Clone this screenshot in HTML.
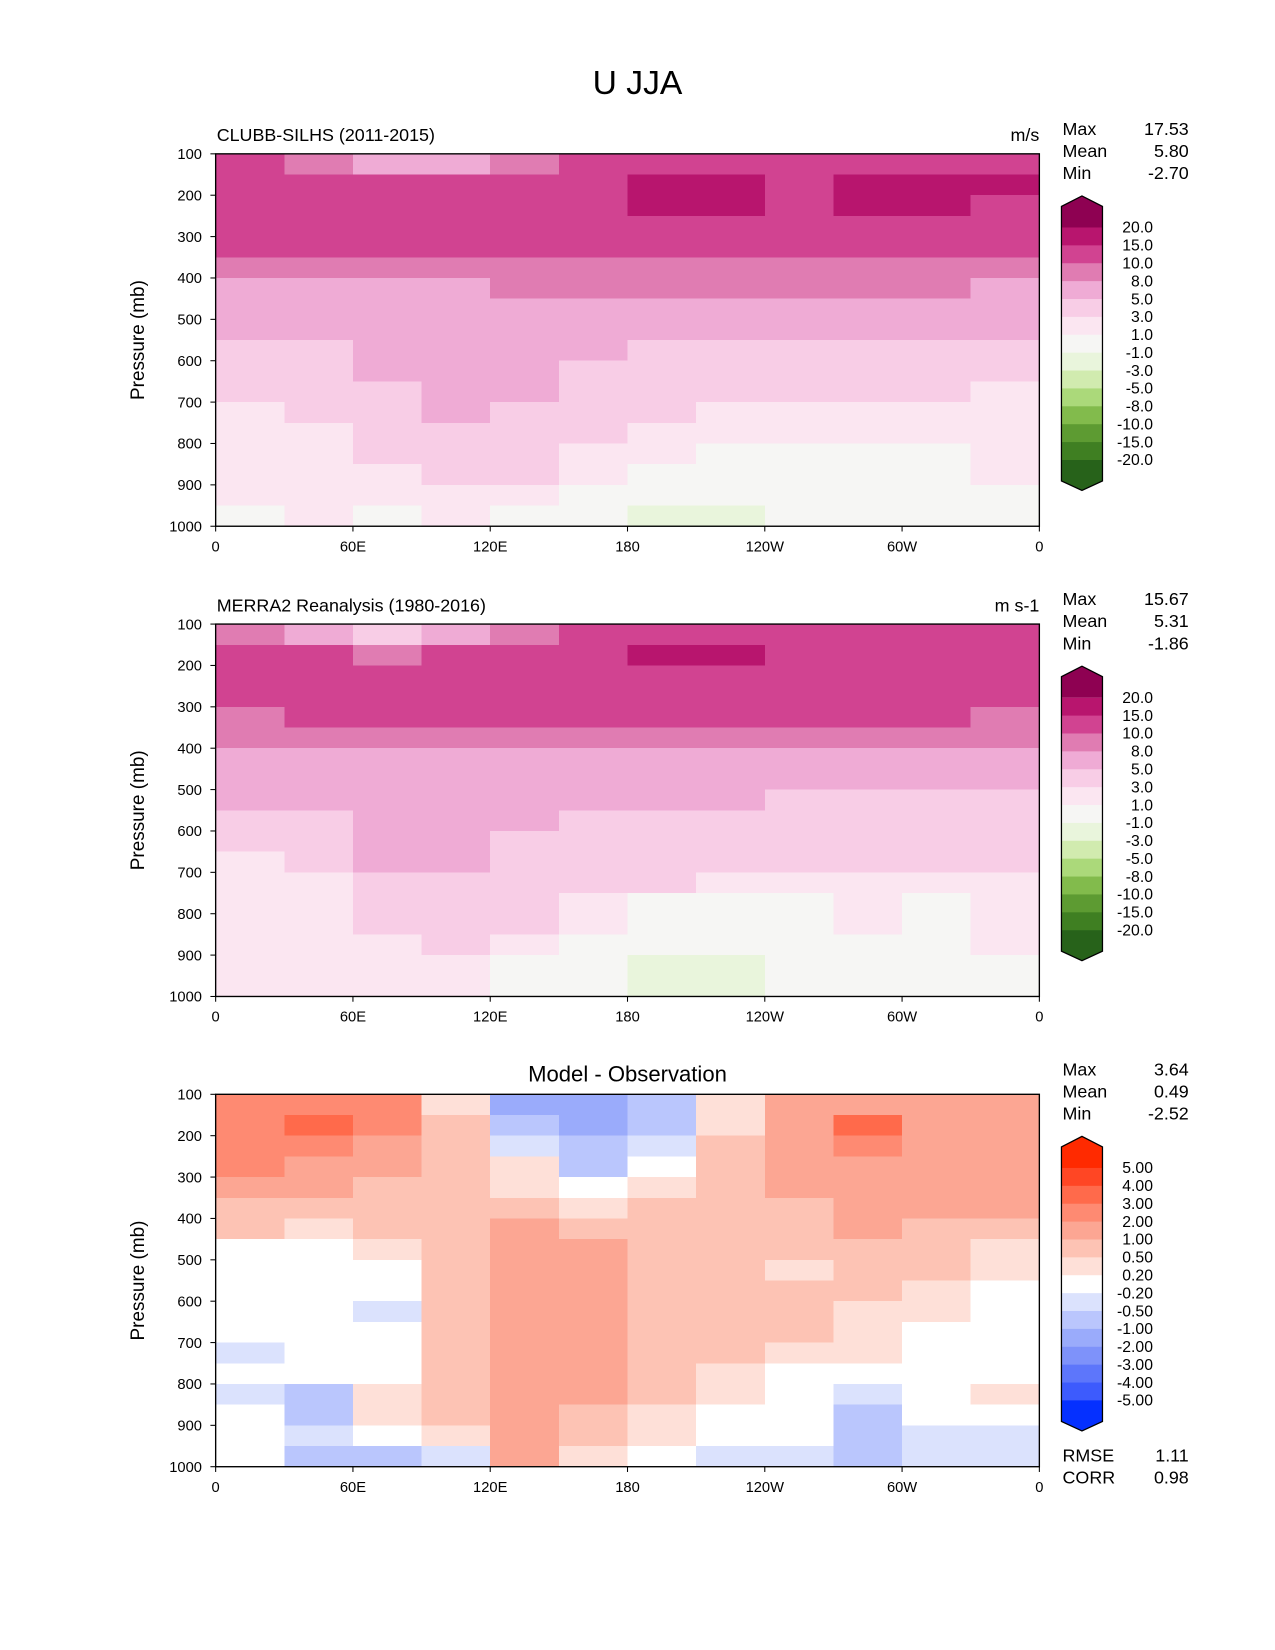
<!DOCTYPE html>
<html><head><meta charset="utf-8"><style>
html,body{margin:0;padding:0;background:#fff}
svg{display:block}
text{font-family:"Liberation Sans","DejaVu Sans",sans-serif;fill:#000}
</style></head><body>
<svg id="fig" width="1275" height="1650" viewBox="0 0 1212 1568" xmlns="http://www.w3.org/2000/svg">
<text x="606" y="89" font-size="32" text-anchor="middle">U JJA</text>
</svg>
<script>
const lonCenters=[15,45,75,105,135,165,195,225,255,285,315,345];
const presCenters=[125,175,225,275,325,375,425,475,525,575,625,675,725,775,825,875,925,975];
const xTickLabels=["0","60E","120E","180","120W","60W","0"];
const yTickLabels=["100","200","300","400","500","600","700","800","900","1000"];
const fieldLevels=[-20,-15,-10,-8,-5,-3,-1,1,3,5,8,10,15,20];
const fieldLabels=["20.0","15.0","10.0","8.0","5.0","3.0","1.0","-1.0","-3.0","-5.0","-8.0","-10.0","-15.0","-20.0"];
const fieldColors=["#27621a","#3f7f22","#5d9b32","#82bb4c","#abd97a","#d1ebaf","#e9f5dc","#f6f6f4","#fbe6f1","#f8cde6","#efabd5","#e07cb2","#d14391","#b8156e","#8e0152"];
const diffLevels=[-5,-4,-3,-2,-1,-0.5,-0.2,0.2,0.5,1,2,3,4,5];
const diffLabels=["5.00","4.00","3.00","2.00","1.00","0.50","0.20","-0.20","-0.50","-1.00","-2.00","-3.00","-4.00","-5.00"];
const diffColors=["#0530ff","#3d5bfd","#5d76fb","#7e92fa","#9aabfb","#bac6fd","#dbe2fd","#ffffff","#fee0d8","#fdc3b4","#fca693","#fe8a72","#ff6a4b","#ff4624","#ff2a00"];
const model=[
[12,9,6.5,6.5,9,12,12,12,12,12,12,12],
[12,12,12,12,12,12,17,17,12,17,17,17],
[12,12,12,12,12,12,17,17,12,17,17,12],
[12,12,12,12,12,12,12,12,12,12,12,12],
[12,12,12,12,12,12,12,12,12,12,12,12],
[9,9,9,9,9,9,9,9,9,9,9,9],
[6.5,6.5,6.5,6.5,9,9,9,9,9,9,9,6.5],
[6.5,6.5,6.5,6.5,6.5,6.5,6.5,6.5,6.5,6.5,6.5,6.5],
[6.5,6.5,6.5,6.5,6.5,6.5,6.5,6.5,6.5,6.5,6.5,6.5],
[4,4,6.5,6.5,6.5,6.5,4,4,4,4,4,4],
[4,4,6.5,6.5,6.5,4,4,4,4,4,4,4],
[4,4,4,6.5,6.5,4,4,4,4,4,4,2],
[2,4,4,6.5,4,4,4,2,2,2,2,2],
[2,2,4,4,4,4,2,2,2,2,2,2],
[2,2,4,4,4,2,2,0,0,0,0,2],
[2,2,2,4,4,2,0,0,0,0,0,2],
[2,2,2,2,2,0,0,0,0,0,0,0],
[0,2,0,2,0,0,-2,-2,0,0,0,0]];
const obs=[
[9,6.5,4,6.5,9,12,12,12,12,12,12,12],
[12,12,9,12,12,12,17,17,12,12,12,12],
[12,12,12,12,12,12,12,12,12,12,12,12],
[12,12,12,12,12,12,12,12,12,12,12,12],
[9,12,12,12,12,12,12,12,12,12,12,9],
[9,9,9,9,9,9,9,9,9,9,9,9],
[6.5,6.5,6.5,6.5,6.5,6.5,6.5,6.5,6.5,6.5,6.5,6.5],
[6.5,6.5,6.5,6.5,6.5,6.5,6.5,6.5,6.5,6.5,6.5,6.5],
[6.5,6.5,6.5,6.5,6.5,6.5,6.5,6.5,4,4,4,4],
[4,4,6.5,6.5,6.5,4,4,4,4,4,4,4],
[4,4,6.5,6.5,4,4,4,4,4,4,4,4],
[2,4,6.5,6.5,4,4,4,4,4,4,4,4],
[2,2,4,4,4,4,4,2,2,2,2,2],
[2,2,4,4,4,2,0,0,0,2,0,2],
[2,2,4,4,4,2,0,0,0,2,0,2],
[2,2,2,4,2,0,0,0,0,0,0,2],
[2,2,2,2,0,0,-2,-2,0,0,0,0],
[2,2,2,2,0,0,-2,-2,0,0,0,0]];
const diff=[
[2.5,2.5,2.5,0.3,-1.5,-1.5,-0.7,0.3,1.5,1.5,1.5,1.5],
[2.5,3.5,2.5,0.7,-0.7,-1.5,-0.7,0.3,1.5,3.5,1.5,1.5],
[2.5,2.5,1.5,0.7,-0.3,-0.7,-0.3,0.7,1.5,2.5,1.5,1.5],
[2.5,1.5,1.5,0.7,0.3,-0.7,0,0.7,1.5,1.5,1.5,1.5],
[1.5,1.5,0.7,0.7,0.3,0,0.3,0.7,1.5,1.5,1.5,1.5],
[0.7,0.7,0.7,0.7,0.7,0.3,0.7,0.7,0.7,1.5,1.5,1.5],
[0.7,0.3,0.7,0.7,1.5,0.7,0.7,0.7,0.7,1.5,0.7,0.7],
[0,0,0.3,0.7,1.5,1.5,0.7,0.7,0.7,0.7,0.7,0.3],
[0,0,0,0.7,1.5,1.5,0.7,0.7,0.3,0.7,0.7,0.3],
[0,0,0,0.7,1.5,1.5,0.7,0.7,0.7,0.7,0.3,0],
[0,0,-0.3,0.7,1.5,1.5,0.7,0.7,0.7,0.3,0.3,0],
[0,0,0,0.7,1.5,1.5,0.7,0.7,0.7,0.3,0,0],
[-0.3,0,0,0.7,1.5,1.5,0.7,0.7,0.3,0.3,0,0],
[0,0,0,0.7,1.5,1.5,0.7,0.3,0,0,0,0],
[-0.3,-0.7,0.3,0.7,1.5,1.5,0.7,0.3,0,-0.3,0,0.3],
[0,-0.7,0.3,0.7,1.5,0.7,0.3,0,0,-0.7,0,0],
[0,-0.3,0,0.3,1.5,0.7,0.3,0,0,-0.7,-0.3,-0.3],
[0,-0.7,-0.7,-0.3,1.5,0.3,0,-0.3,-0.3,-0.7,-0.3,-0.3]];
const statsModel=["17.53","5.80","-2.70"];
const statsObs=["15.67","5.31","-1.86"];
const statsDiff=["3.64","0.49","-2.52"];

const NS="http://www.w3.org/2000/svg";
const svg=document.getElementById('fig');
function mk(tag,attrs,parent,txt){const e=document.createElementNS(NS,tag);for(const k in attrs)e.setAttribute(k,attrs[k]);if(txt!==undefined)e.textContent=txt;(parent||svg).appendChild(e);return e;}
const X0=205,X1=988,W=X1-X0,H=354;
function colorFor(v,levels,colors){let i=0;while(i<levels.length&&v>=levels[i])i++;return colors[i];}

function panel(top,data,levels,colors,labels,name,title,unit,center,stats,cbTop,extra){
  const g=mk('g',{});
  
  
  const xs=l=>X0+l/360*W, ys=p=>top+(p-100)/900*H;
  const cg=mk('g',{'shape-rendering':'crispEdges'},g);
  
  
  data.forEach((row,ri)=>row.forEach((v,ci)=>{
    const x=xs(lonCenters[ci]-15),y=ys(presCenters[ri]-25);
    const r=mk('rect',{x:x,y:y,width:xs(lonCenters[ci]+15)-x+0.5,height:ys(presCenters[ri]+25)-y+0.5,fill:colorFor(v,levels,colors)},cg);
    
    
  }));
  const fr=mk('rect',{x:X0,y:top,width:W,height:H,fill:'none',stroke:'#000','stroke-width':1.3},g);
  
  
  xTickLabels.forEach((t,i)=>{const x=xs(i*60);mk('line',{x1:x,x2:x,y1:top+H,y2:top+H+5,stroke:'#000'},g);
    const e=mk('text',{x:x,y:top+H+24,'font-size':14,'text-anchor':'middle'},g,t);
    });
  yTickLabels.forEach((t,i)=>{const y=ys(100+i*100);mk('line',{x1:X0-5,x2:X0,y1:y,y2:y,stroke:'#000'},g);
    const e=mk('text',{x:X0-13,y:y+5,'font-size':14,'text-anchor':'end'},g,t);
    });
  const yt=mk('text',{x:0,y:0,'font-size':18,'text-anchor':'middle',transform:`translate(137,${top+H/2}) rotate(-90)`},g,'Pressure (mb)');
  
  if(center){const e=mk('text',{x:(X0+X1)/2,y:top-12,'font-size':21,'text-anchor':'middle'},g,title);}
  else{const e=mk('text',{x:X0+1,y:top-12,'font-size':17},g,title);
    const u=mk('text',{x:X1,y:top-12,'font-size':17,'text-anchor':'end'},g,unit);}
  ["Max","Mean","Min"].forEach((s,i)=>{const a=mk('text',{x:1010,y:top-18+i*21,'font-size':17},g,s);
    const b=mk('text',{x:1130,y:top-18+i*21,'font-size':17,'text-anchor':'end'},g,stats[i]);});
  // colorbar
  const cb=mk('g',{},g);
  const L=1009,R=1048,bt=cbTop+30,bh=17,n=levels.length-1,bb=bt+n*bh;
  mk('polygon',{points:`${L},${bt} ${L},${cbTop+10} ${(L+R)/2},${cbTop} ${R},${cbTop+10} ${R},${bt}`,fill:colors[colors.length-1]},cb);
  for(let i=0;i<n;i++){mk('rect',{x:L,y:bt+i*bh,width:R-L,height:bh+0.5,fill:colors[colors.length-2-i]},cb);}
  mk('polygon',{points:`${L},${bb} ${L},${bb+20} ${(L+R)/2},${bb+29} ${R},${bb+20} ${R},${bb}`,fill:colors[0]},cb);
  mk('polygon',{points:`${L},${bt} ${L},${cbTop+10} ${(L+R)/2},${cbTop} ${R},${cbTop+10} ${R},${bb+20} ${(L+R)/2},${bb+29} ${L},${bb+20}`,fill:'none',stroke:'#000','stroke-width':1.2},cb);
  labels.forEach((t,i)=>{const e=mk('text',{x:1096,y:bt+i*bh+5,'font-size':15,'text-anchor':'end'},cb,t);});
  if(extra){[["RMSE","1.11"],["CORR","0.98"]].forEach((p,i)=>{const a=mk('text',{x:1010,y:1389+i*21,'font-size':17},g,p[0]);
    const b=mk('text',{x:1130,y:1389+i*21,'font-size':17,'text-anchor':'end'},g,p[1]);});}
}
panel(146,model,fieldLevels,fieldColors,fieldLabels,'model-panel','CLUBB-SILHS (2011-2015)','m/s',false,statsModel,186,false);
panel(593,obs,fieldLevels,fieldColors,fieldLabels,'observation-panel','MERRA2 Reanalysis (1980-2016)','m s-1',false,statsObs,633,false);
panel(1040,diff,diffLevels,diffColors,diffLabels,'difference-panel','Model - Observation','',true,statsDiff,1080,true);
</script>
</body></html>
